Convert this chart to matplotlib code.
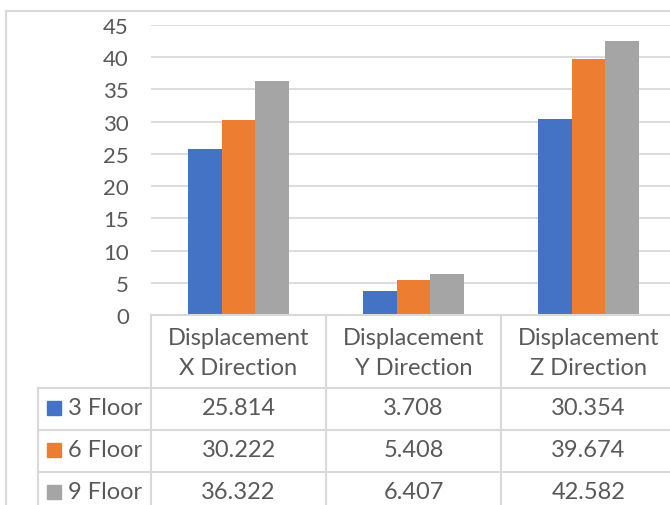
import matplotlib
matplotlib.use('Agg')
import matplotlib.pyplot as plt
import numpy as np
from matplotlib.lines import Line2D
from matplotlib.patches import Rectangle
import matplotlib.transforms as mtransforms

plt.rcParams['font.family'] = ['Lato', 'DejaVu Sans']

categories = ['Displacement\nX Direction', 'Displacement\nY Direction', 'Displacement\nZ Direction']
series_names = ['3 Floor', '6 Floor', '9 Floor']
floor3 = [25.814, 3.708, 30.354]
floor6 = [30.222, 5.408, 39.674]
floor9 = [36.322, 6.407, 42.582]
colors = ['#4472C4', '#ED7D31', '#A5A5A5']
yticks = [0, 5, 10, 15, 20, 25, 30, 35, 40, 45]

W, H = 670, 506
fig = plt.figure(figsize=(W / 100, H / 100), dpi=100)

# plot area in pixel terms (left, top, right, bottom)
L, T, R, B = 151, 26, 676, 316
ax = fig.add_axes([L / W, (H - B) / H, (R - L) / W, (B - T) / H])

x = np.arange(len(categories))
bw = 0.192
for i, vals in enumerate([floor3, floor6, floor9]):
    ax.bar(x + (i - 1) * bw, vals, width=bw, color=colors[i], zorder=3)

ax.set_xlim(-0.5, 2.5)
ax.set_ylim(0, 45)
ax.set_yticks(yticks)
ax.yaxis.grid(True, color='#D9D9D9', linewidth=1.3, zorder=0)
ax.tick_params(axis='y', length=0, pad=16, labelsize=16, labelcolor='#595959')
ax.set_xticks([])
for s in ['top', 'right', 'left', 'bottom']:
    ax.spines[s].set_visible(False)

grey = '#D9D9D9'
txtc = '#595959'
fs = 17


def px_line(x0, y0, x1, y1):
    fig.add_artist(Line2D([x0 / W, x1 / W], [1 - y0 / H, 1 - y1 / H],
                          color=grey, linewidth=1.5, transform=fig.transFigure))


# outer chart border
px_line(6, 12, 670, 12)
px_line(6, 12, 6, 506)

# data table grid
rows = [316, 389, 431, 473, 515]
px_line(L, rows[0], 670, rows[0])
for r in rows[1:4]:
    px_line(38, r, 670, r)
for c in [L, 326, 501]:
    px_line(c, rows[0], c, 506)
px_line(38, rows[1], 38, 506)

# header text, positioned by category
trans = mtransforms.blended_transform_factory(ax.transData, fig.transFigure)
for xi, cat in zip(x, categories):
    ax.text(xi, 1 - ((rows[0] + rows[1]) / 2 + 1) / H, cat, transform=trans,
            ha='center', va='center', fontsize=fs, color=txtc,
            linespacing=1.55, clip_on=False)

# value rows
for ri, (name, vals) in enumerate(zip(series_names, [floor3, floor6, floor9])):
    yc = 1 - ((rows[ri + 1] + rows[ri + 2]) / 2 - 1) / H
    for xi, v in zip(x, vals):
        ax.text(xi, yc, f'{v:.3f}', transform=trans, ha='center', va='center',
                fontsize=fs, color=txtc, clip_on=False)
    fig.add_artist(Rectangle((47 / W, yc - 7 / H), 14 / W, 14 / H,
                             color=colors[ri], transform=fig.transFigure))
    fig.text(68 / W, yc, name, ha='left', va='center', fontsize=fs, color=txtc)

fig.savefig('out.png', dpi=100)
